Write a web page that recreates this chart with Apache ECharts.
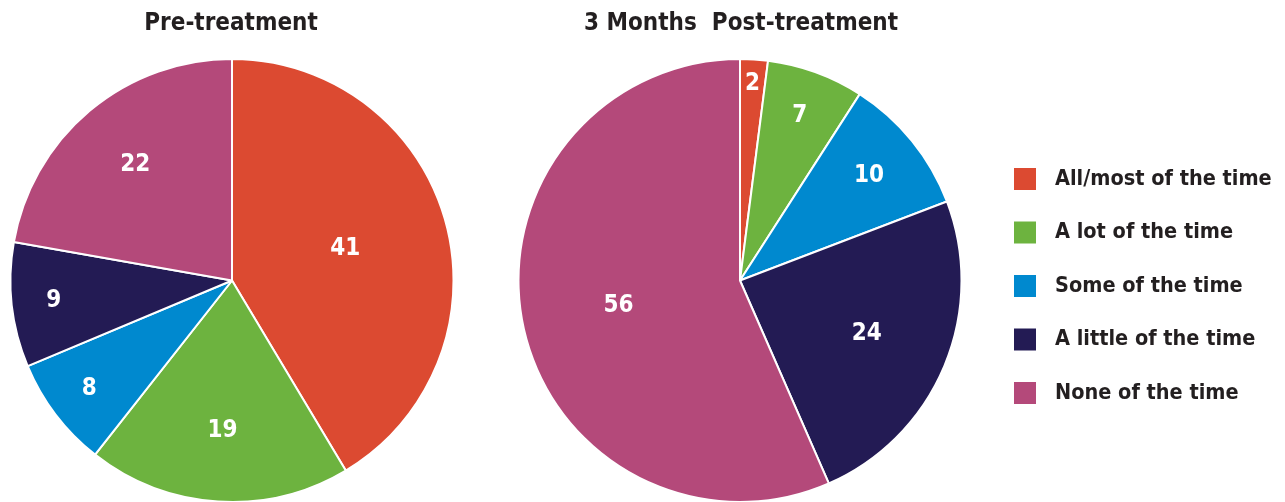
<!DOCTYPE html>
<html>
<head>
<meta charset="utf-8">
<script src="https://cdn.jsdelivr.net/npm/echarts@6/dist/echarts.min.js"></script>
<style>
html,body{margin:0;padding:0;background:#fff;}
#c{width:1285px;height:502px;}
</style>
</head>
<body>
<div id="c"></div>
<script>
var categories = ['All/most of the time', 'A lot of the time', 'Some of the time', 'A little of the time', 'None of the time'];
var preValues = [41, 19, 8, 9, 22];
var postValues = [2, 7, 10, 24, 56];
var chartTitles = ['Pre-treatment', '3 Months  Post-treatment'];
var colors = ['#DC4A31', '#6DB33F', '#0089CF', '#231B54', '#B4497A'];
// label radial position as fraction of radius (style)
var preLabelR = [0.53, 0.68, 0.81, 0.81, 0.68];
var postLabelR = [0.89, 0.79, 0.75, 0.62, 0.56];

var FONT = "'DejaVu Sans Condensed', 'Liberation Sans Narrow', sans-serif";
var chart = echarts.init(document.getElementById('c'));

function makeData(vals) {
  return vals.map(function (v, i) {
    return { name: categories[i], value: v, itemStyle: { color: colors[i] } };
  });
}
function labelLayoutFn(fracs) {
  return function (params) {
    var data = chart.getModel().getSeriesByIndex(params.seriesIndex).getData();
    var L = data.getItemLayout(params.dataIndex);
    var mid = (L.startAngle + L.endAngle) / 2;
    var rr = L.r * fracs[params.dataIndex];
    return { x: L.cx + rr * Math.cos(mid), y: L.cy + rr * Math.sin(mid) };
  };
}
var labelStyle = {
  show: true, position: 'inside', formatter: '{c}', color: '#fff',
  fontFamily: FONT, fontWeight: 'bold', fontSize: 24
};

chart.setOption({
  animation: false,
  title: [
    { text: chartTitles[0], left: 226, top: 7, textAlign: 'center',
      textStyle: { fontFamily: FONT, fontWeight: 'bold', fontSize: 24, color: '#231F20' } },
    { text: chartTitles[1], left: 736, top: 7, textAlign: 'center',
      textStyle: { fontFamily: FONT, fontWeight: 'bold', fontSize: 24, color: '#231F20' } }
  ],
  legend: {
    orient: 'vertical', left: 1012, top: 166, padding: 0,
    itemWidth: 24, itemHeight: 24, itemGap: 27.5,
    icon: 'rect',
    data: categories,
    textStyle: { fontFamily: FONT, fontWeight: 'bold', fontSize: 21.5, color: '#231F20', padding: [0, 0, 0, 13] }
  },
  series: [
    {
      type: 'pie', center: [232, 280.5], radius: 221.5, startAngle: 90, clockwise: true,
      data: makeData(preValues), label: labelStyle, labelLine: { show: false },
      itemStyle: { borderColor: '#fff', borderWidth: 2 },
      emphasis: { disabled: true },
      labelLayout: labelLayoutFn(preLabelR)
    },
    {
      type: 'pie', center: [740, 280.5], radius: 221.5, startAngle: 90, clockwise: true,
      data: makeData(postValues), label: labelStyle, labelLine: { show: false },
      itemStyle: { borderColor: '#fff', borderWidth: 2 },
      emphasis: { disabled: true },
      labelLayout: labelLayoutFn(postLabelR)
    }
  ]
});
</script>
</body>
</html>
